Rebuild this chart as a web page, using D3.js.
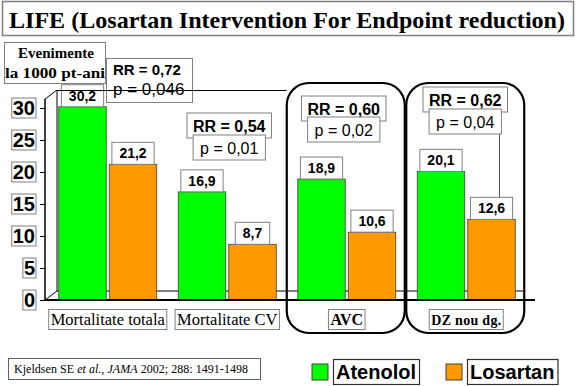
<!DOCTYPE html>
<html>
<head>
<meta charset="utf-8">
<script src="https://d3js.org/d3.v7.min.js"></script>
<style>
  body { margin: 0; background: #fff; }
  svg { display: block; }
</style>
</head>
<body>
<svg id="chart"></svg>
<script>
// chart data
var categories = ["Mortalitate totala", "Mortalitate CV", "AVC", "DZ nou dg."];
var series = ["Atenolol", "Losartan"];
var atenolol = [30.2, 16.9, 18.9, 20.1];
var losartan = [21.2, 8.7, 10.6, 12.6];
var rrValues = ["0,72", "0,54", "0,60", "0,62"];
var pValues = ["0,046", "0,01", "0,02", "0,04"];
var yTicks = [0, 5, 10, 15, 20, 25, 30];
var colors = ["#00ff00", "#ff9900"];

var W = 576, H = 386;
var sans = "'Liberation Sans', Arial, sans-serif";
var serif = "'Liberation Serif', 'Times New Roman', serif";

var svg = d3.select("#chart").attr("width", W).attr("height", H);

var x0 = d3.scaleBand().domain(categories).range([48, 526])
    .paddingInner(0.18).paddingOuter(0.09);
var x1 = d3.scaleBand().domain(series).range([0, x0.bandwidth()]).paddingInner(0.06);
var y = d3.scaleLinear().domain([0, 30]).range([300, 108]);

var fmt = function (v) { return d3.format(".1f")(v).replace(".", ","); };

// title
svg.append("rect").attr("x", 2.5).attr("y", 1.5).attr("width", 571).attr("height", 34)
    .attr("fill", "#fff").attr("stroke", "#808080").attr("stroke-width", 1.5);
svg.append("text").attr("x", 287).attr("y", 28).attr("text-anchor", "middle")
    .attr("font-family", serif).attr("font-weight", "bold").attr("font-size", 24)
    .attr("textLength", 556).attr("lengthAdjust", "spacingAndGlyphs")
    .text("LIFE (Losartan Intervention For Endpoint reduction)");

// units box
svg.append("rect").attr("x", 4.5).attr("y", 42.5).attr("width", 101).attr("height", 41)
    .attr("fill", "#fff").attr("stroke", "#808080");
svg.append("text").attr("x", 56).attr("y", 58).attr("text-anchor", "middle")
    .attr("font-family", serif).attr("font-weight", "bold").attr("font-size", 15)
    .text("Evenimente");
svg.append("text").attr("x", 55).attr("y", 78).attr("text-anchor", "middle")
    .attr("font-family", serif).attr("font-weight", "bold").attr("font-size", 15)
    .attr("textLength", 100).attr("lengthAdjust", "spacingAndGlyphs")
    .text("la 1000 pt-ani");

// 3D walls
var axX = 45, dx = 12, dy = -9;
var topF = y(30) + dy, base = y(0);
var walls = svg.append("g").attr("stroke", "#000").attr("fill", "none");
walls.append("line").attr("x1", axX).attr("y1", topF).attr("x2", axX + dx).attr("y2", topF + dy);
walls.append("line").attr("x1", axX + dx).attr("y1", topF + dy).attr("x2", axX + dx).attr("y2", base + dy);
walls.append("line").attr("x1", axX).attr("y1", base).attr("x2", axX + dx).attr("y2", base + dy);
walls.append("line").attr("x1", axX + dx).attr("y1", base + dy).attr("x2", 523).attr("y2", base + dy);

// rounded group frames
["AVC", "DZ nou dg."].forEach(function (c) {
  svg.append("rect").attr("x", x0(c) - 11).attr("y", 83)
      .attr("width", x0.bandwidth() + 20).attr("height", 250)
      .attr("rx", 22).attr("ry", 22)
      .attr("fill", "none").attr("stroke", "#000").attr("stroke-width", 2.2);
});

// bars
var rows = categories.map(function (c, i) {
  return { cat: c, vals: [atenolol[i], losartan[i]] };
});
var groups = svg.selectAll("g.grp").data(rows).enter().append("g")
    .attr("class", "grp")
    .attr("transform", function (d) { return "translate(" + x0(d.cat) + ",0)"; });

groups.selectAll("rect.bar").data(function (d) {
  return d.vals.map(function (v, j) { return { s: series[j], v: v, j: j }; });
}).enter().append("rect").attr("class", "bar")
    .attr("x", function (d) { return x1(d.s); })
    .attr("y", function (d) { return y(d.v); })
    .attr("width", x1.bandwidth())
    .attr("height", function (d) { return y(0) - y(d.v); })
    .attr("fill", function (d) { return colors[d.j]; })
    .attr("stroke", "#404040").attr("stroke-width", 0.8);

// value labels
groups.each(function (d) {
  var g = d3.select(this);
  d.vals.forEach(function (v, j) {
    var cx = x1(series[j]) + x1.bandwidth() / 2;
    var t = g.append("text").attr("x", cx).attr("y", y(v) - 6)
        .attr("text-anchor", "middle").attr("font-family", sans)
        .attr("font-weight", "bold").attr("font-size", 14).text(fmt(v));
    var w = t.node().getComputedTextLength() + 15;
    g.insert("rect", function () { return t.node(); })
        .attr("x", cx - w / 2).attr("y", y(v) - 22).attr("width", w).attr("height", 22)
        .attr("fill", "#fff").attr("stroke", "#808080");
  });
});

// vertical artefact line in last group
svg.append("line").attr("x1", 499.5).attr("x2", 499.5).attr("y1", 134).attr("y2", y(losartan[3]) - 22)
    .attr("stroke", "#555");

// RR / p annotations
var rrLayout = [
  null,
  { dx: 2, ry: 113, py: 135 },
  { dx: -3, ry: 96, py: 117 },
  { dx: -1, ry: 87, py: 109 }
];
function boxText(cx, top, h, str, bold, size, minW) {
  var t = svg.append("text").attr("x", cx).attr("y", top + h - 6)
      .attr("text-anchor", "middle").attr("font-family", sans)
      .attr("font-weight", bold ? "bold" : "normal").attr("font-size", size).text(str);
  var w = t.node().getComputedTextLength() + minW;
  svg.insert("rect", function () { return t.node(); })
      .attr("x", cx - w / 2).attr("y", top).attr("width", w).attr("height", h)
      .attr("fill", "#fff").attr("stroke", "#808080");
}
categories.forEach(function (c, i) {
  var cx = x0(c) + x0.bandwidth() / 2;
  var L = rrLayout[i];
  if (!L) return;
  boxText(cx + L.dx, L.ry, 25, "RR = " + rrValues[i], true, 16, 12);
  boxText(cx + L.dx, L.py, 25, "p = " + pValues[i], false, 16, 14);
});
// first group: single box, two lines
svg.append("rect").attr("x", 106.5).attr("y", 58.5).attr("width", 86).attr("height", 44)
    .attr("fill", "none").attr("stroke", "#808080");
svg.append("text").attr("x", 113).attr("y", 75).attr("font-family", sans)
    .attr("font-weight", "bold").attr("font-size", 15).text("RR = " + rrValues[0]);
svg.append("text").attr("x", 113).attr("y", 95).attr("font-family", sans)
    .attr("font-size", 17).text("p = " + pValues[0]);

// back wall top line, drawn over labels
svg.append("line").attr("x1", axX + dx).attr("y1", topF + dy + 0.5)
    .attr("x2", x0("AVC") - 11).attr("y2", topF + dy + 0.5).attr("stroke", "#000");

// y axis
var yAxis = d3.axisLeft(y).tickValues(yTicks).tickSize(5).tickFormat("");
var ya = svg.append("g").attr("transform", "translate(" + axX + ",0)").call(yAxis);
ya.select(".domain").remove();
ya.selectAll("line").attr("stroke", "#000");
svg.append("line").attr("x1", axX).attr("x2", axX).attr("y1", topF).attr("y2", base)
    .attr("stroke", "#000").attr("stroke-width", 1.5);
yTicks.forEach(function (v) {
  var t = svg.append("text").attr("x", 35).attr("y", y(v) + 7).attr("text-anchor", "end")
      .attr("font-family", sans).attr("font-weight", "bold").attr("font-size", 20).text(v);
  var w = t.node().getComputedTextLength() + 2;
  svg.insert("rect", function () { return t.node(); })
      .attr("x", 36 - w).attr("y", y(v) - 10).attr("width", w).attr("height", 20)
      .attr("fill", "#fff").attr("stroke", "#808080");
});

// floor front line
svg.append("line").attr("x1", axX).attr("x2", 535).attr("y1", base).attr("y2", base)
    .attr("stroke", "#000").attr("stroke-width", 2);

// category labels
categories.forEach(function (c, i) {
  var cx = x0(c) + x0.bandwidth() / 2;
  var bold = i >= 2;
  var t = svg.append("text").attr("x", cx).attr("y", 325).attr("text-anchor", "middle")
      .attr("font-family", serif).attr("font-weight", bold ? "bold" : "normal")
      .attr("font-size", i === 3 ? 14 : (bold ? 16 : 16.5)).text(c);
  if (i === 3) t.attr("textLength", 70).attr("lengthAdjust", "spacing");
  var w = (i === 3 ? 70 : t.node().getComputedTextLength()) + 4;
  svg.insert("rect", function () { return t.node(); })
      .attr("x", cx - w / 2).attr("y", 309.5).attr("width", w).attr("height", 20)
      .attr("fill", "#fff").attr("stroke", "#808080");
});

// citation
svg.append("rect").attr("x", 8.5).attr("y", 358.5).attr("width", 252).attr("height", 21)
    .attr("fill", "#fff").attr("stroke", "#606060");
var cit = svg.append("text").attr("x", 14).attr("y", 373)
    .attr("font-family", serif).attr("font-size", 12)
    .attr("textLength", 234).attr("lengthAdjust", "spacing");
cit.append("tspan").text("Kjeldsen SE ");
cit.append("tspan").attr("font-style", "italic").text("et al.");
cit.append("tspan").text(", ");
cit.append("tspan").attr("font-style", "italic").text("JAMA");
cit.append("tspan").text(" 2002; 288: 1491-1498");

// legend
var legX = [312, 446];
series.forEach(function (s, j) {
  svg.append("rect").attr("x", legX[j]).attr("y", 364).attr("width", 16).attr("height", 16)
      .attr("fill", colors[j]).attr("stroke", "#404040");
  var t = svg.append("text").attr("x", legX[j] + 24).attr("y", 379)
      .attr("font-family", sans).attr("font-weight", "bold").attr("font-size", 20).text(s);
  var w = t.node().getComputedTextLength() + 6;
  svg.insert("rect", function () { return t.node(); })
      .attr("x", legX[j] + 21.5).attr("y", 359.5).attr("width", w).attr("height", 25)
      .attr("fill", "#fff").attr("stroke", "#303030").attr("stroke-width", 1.2);
});
</script>
</body>
</html>
